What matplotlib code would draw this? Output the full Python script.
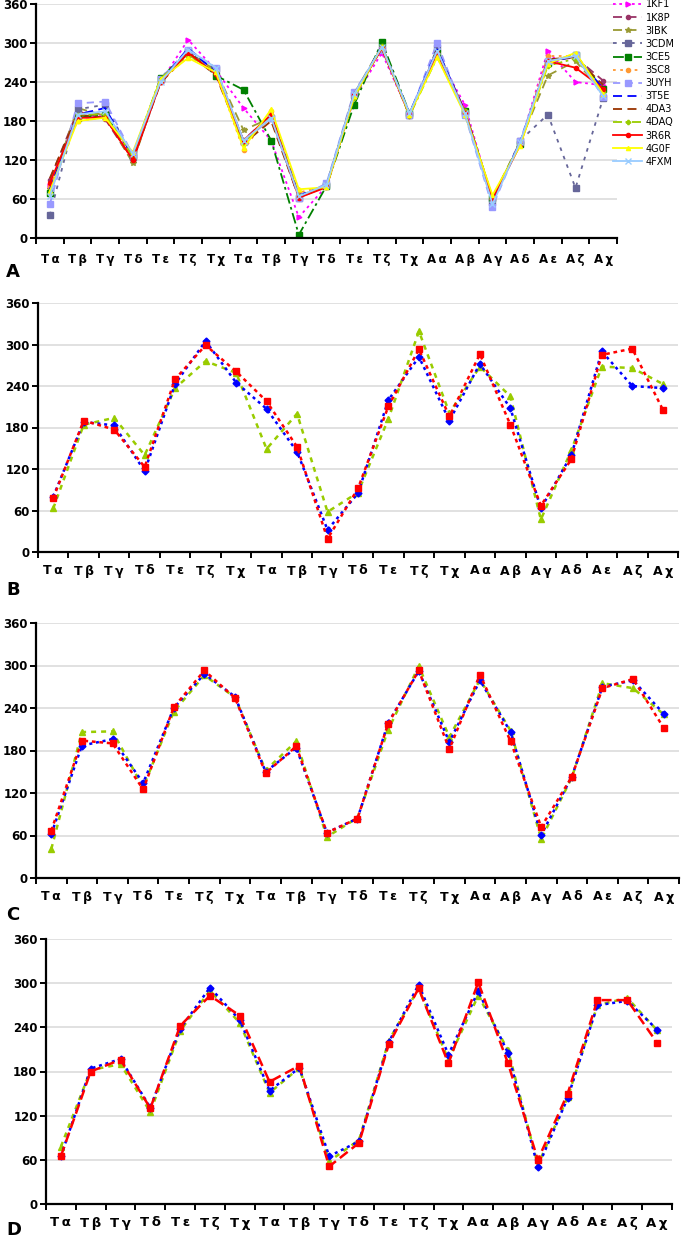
import matplotlib
matplotlib.use('Agg')
import matplotlib.pyplot as plt
import numpy as np

plt.rcParams['font.family'] = ['DejaVu Sans']

labels = ['Tα', 'Tβ', 'Tγ', 'Tδ', 'Tε', 'Tζ', 'Tχ', 'Tα', 'Tβ', 'Tγ', 'Tδ',
          'Tε', 'Tζ', 'Tχ', 'Aα', 'Aβ', 'Aγ', 'Aδ', 'Aε', 'Aζ', 'Aχ']

# panel A: 13 structures
kf1  = [80, 185, 188, 125, 240, 305, 258, 200, 150, 32, 80, 215, 285, 190, 282, 205, 58, 145, 288, 240, 235]
k8p  = [90, 195, 183, 118, 240, 285, 262, 148, 185, 62, 80, 220, 292, 188, 290, 195, 60, 145, 272, 278, 242]
ibk  = [75, 200, 188, 115, 245, 285, 258, 166, 185, 65, 82, 222, 296, 188, 288, 196, 62, 148, 250, 272, 225]
cdm  = [35, 198, 205, 125, 245, 285, 260, 150, 185, 62, 82, 220, 292, 190, 292, 192, 55, 150, 190, 77, 215]
ce5  = [70, 185, 190, 128, 246, 287, 250, 228, 150, 5, 80, 205, 302, 192, 285, 195, 62, 145, 270, 282, 230]
sc8  = [80, 180, 186, 122, 240, 280, 256, 135, 195, 70, 80, 218, 294, 190, 285, 195, 62, 145, 280, 280, 225]
uyh  = [52, 207, 210, 128, 245, 290, 262, 148, 185, 62, 84, 225, 290, 190, 300, 190, 48, 150, 272, 282, 217]
t5e  = [75, 190, 200, 125, 240, 292, 255, 150, 190, 66, 80, 220, 295, 192, 290, 195, 56, 148, 270, 280, 230]
da3  = [92, 190, 185, 120, 238, 285, 250, 145, 180, 62, 80, 222, 292, 190, 285, 195, 60, 145, 275, 278, 235]
daq  = [68, 190, 190, 125, 245, 282, 255, 145, 190, 65, 80, 215, 295, 188, 278, 195, 62, 145, 265, 276, 225]
r6r  = [85, 185, 185, 120, 240, 285, 252, 150, 190, 62, 78, 220, 292, 190, 285, 193, 60, 143, 272, 262, 230]
g0f  = [72, 180, 185, 132, 244, 277, 255, 138, 198, 75, 78, 218, 294, 190, 278, 190, 66, 142, 268, 285, 222]
fxm  = [65, 190, 195, 130, 240, 290, 262, 150, 185, 64, 82, 222, 294, 192, 288, 192, 52, 148, 272, 280, 218]

# panels B-D: three series each (blue, red, green)
b_blue  = [80, 188, 183, 117, 243, 305, 245, 207, 145, 32, 85, 220, 282, 190, 272, 208, 63, 140, 290, 240, 237]
b_red   = [78, 190, 177, 123, 250, 299, 261, 218, 152, 19, 92, 211, 293, 196, 286, 184, 67, 134, 285, 294, 206]
b_green = [63, 184, 194, 140, 237, 276, 259, 149, 200, 58, 86, 193, 319, 201, 268, 225, 47, 147, 268, 266, 243]

c_blue  = [62, 187, 196, 134, 240, 288, 256, 150, 184, 64, 84, 219, 292, 192, 279, 206, 61, 143, 270, 279, 232]
c_red   = [67, 194, 190, 125, 241, 293, 254, 148, 186, 64, 84, 218, 293, 182, 287, 193, 72, 143, 268, 281, 212]
c_green = [41, 206, 207, 128, 235, 286, 255, 152, 193, 58, 85, 209, 299, 199, 280, 208, 55, 142, 275, 268, 231]

d_blue  = [65, 184, 197, 131, 238, 294, 250, 154, 185, 65, 85, 220, 298, 203, 289, 205, 50, 144, 270, 276, 237]
d_red   = [65, 180, 196, 130, 242, 283, 256, 166, 188, 51, 83, 217, 293, 191, 301, 191, 60, 150, 277, 277, 219]
d_green = [78, 182, 190, 125, 235, 290, 246, 151, 185, 58, 87, 222, 293, 196, 283, 209, 53, 145, 270, 280, 236]

x = np.arange(len(labels))
# the original spreads the two letters a little apart
shown = [l[0] + '\u2009' + l[1:] for l in labels]

W, H = 681, 1240
fig = plt.figure(figsize=(W / 100, H / 100), dpi=100)


def px_axes(l, t, r, b):
    return fig.add_axes([l / W, 1 - b / H, (r - l) / W, (b - t) / H])


def style_axes(ax, fs=8.5):
    ax.set_xlim(-0.5, len(labels) - 0.5)
    ax.set_ylim(0, 360)
    ax.set_yticks(np.arange(0, 361, 60))
    ax.yaxis.grid(True, color='#dcdcdc', lw=1.2)
    ax.set_axisbelow(True)
    for s in ['top', 'right']:
        ax.spines[s].set_visible(False)
    for s in ['left', 'bottom']:
        ax.spines[s].set_linewidth(1.6)
    ax.set_xticks(np.arange(len(labels) + 1) - 0.5)
    ax.set_xticklabels([])
    ax.set_xticks(x, minor=True)
    ax.set_xticklabels(shown, minor=True, fontweight='bold', fontsize=fs)
    ax.tick_params(axis='x', which='major', length=4, width=1.4, direction='out')
    ax.tick_params(axis='x', which='minor', length=0, pad=9)
    ax.tick_params(axis='y', length=4, width=1.4, labelsize=8.5, pad=2)
    for t in ax.get_yticklabels():
        t.set_fontweight('bold')


# ---- panel A
axA = px_axes(36, 4, 617, 238)
styleA = [
    ('1KF1', kf1, '#ff00ff', (0, (1.5, 2)), '>', 3.5),
    ('1K8P', k8p, '#993366', (0, (5, 3)), 'o', 3),
    ('3IBK', ibk, '#999933', (0, (5, 3)), '*', 4),
    ('3CDM', cdm, '#666699', (0, (2, 3)), 's', 4.5),
    ('3CE5', ce5, '#008000', (0, (6, 2, 1.5, 2)), 's', 4.5),
    ('3SC8', sc8, '#ff9933', (0, (1.5, 2.5)), 'o', 3),
    ('3UYH', uyh, '#9999ff', (0, (4, 3)), 's', 5),
    ('3T5E', t5e, '#0000ff', (0, (5, 3)), None, 0),
    ('4DA3', da3, '#993300', (0, (5, 3)), None, 0),
    ('4DAQ', daq, '#99cc00', (0, (5, 2, 1.5, 2)), 'P', 3),
    ('3R6R', r6r, '#ff0000', '-', 'o', 3),
    ('4G0F', g0f, '#ffff00', '-', '^', 3),
    ('4FXM', fxm, '#99ccff', '-', 'x', 5),
]
for name, vals, col, ls, mk, ms in styleA:
    axA.plot(x, vals, color=col, ls=ls, lw=1.3, marker=mk, ms=ms,
             markeredgecolor=col, markerfacecolor=col, label=name)
style_axes(axA, fs=8.5)
axA.tick_params(axis='x', which='minor', pad=11)
fig.legend(*axA.get_legend_handles_labels(), loc='upper left',
           bbox_to_anchor=(611 / W, 1.002), frameon=False, fontsize=7,
           handlelength=3.0, labelspacing=0.32, handletextpad=0.35,
           borderaxespad=0, borderpad=0.2)

# ---- panels B-D
panels = [
    ((38, 303, 678, 552), b_blue, b_red, b_green, (0, (1.5, 1.5)), 'B', 590, 9),
    ((36, 623, 679, 878), c_blue, c_red, c_green, (0, (1.5, 1.5)), 'C', 915, 9),
    ((46, 939, 672, 1204), d_blue, d_red, d_green, (0, (4, 2)), 'D', 1230, 9.5),
]
for box, blue, red, green, red_ls, letter, ly, fs in panels:
    ax = px_axes(*box)
    ax.plot(x, green, color='#99cc00', ls=(0, (2, 2)), lw=1.8, marker='^', ms=5)
    ax.plot(x, blue, color='#0000ff', ls=(0, (1.2, 1.5)), lw=1.8, marker='D', ms=3.5)
    ax.plot(x, red, color='#ff0000', ls=red_ls, lw=1.8, marker='s', ms=5)
    style_axes(ax, fs=fs)
    fig.text(6 / W, 1 - ly / H, letter, fontsize=13, fontweight='bold', va='center')

fig.text(6 / W, 1 - 272 / H, 'A', fontsize=13, fontweight='bold', va='center')

fig.savefig('out.png', dpi=100)
